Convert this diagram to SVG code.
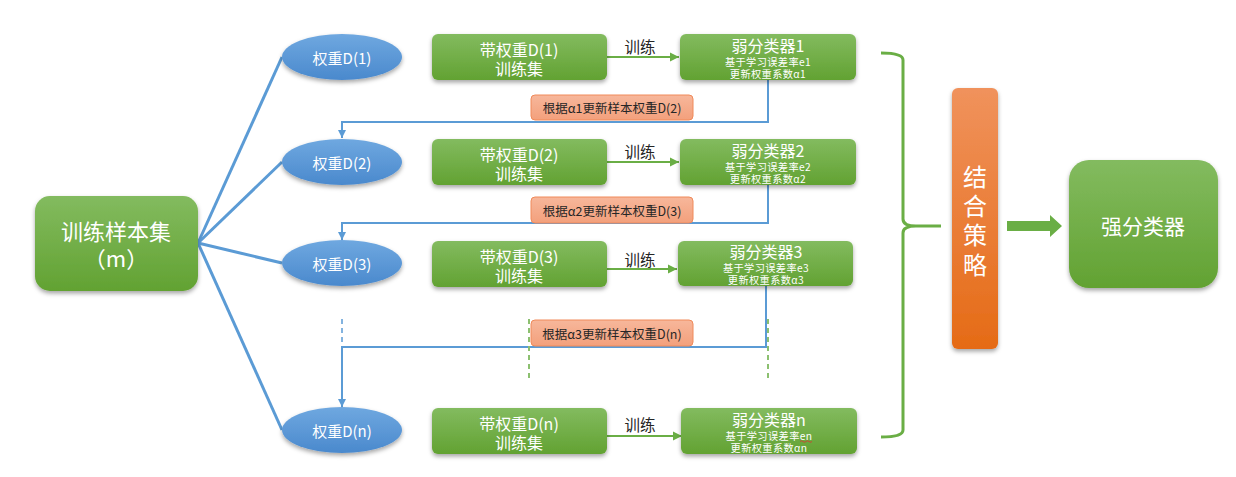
<svg xmlns="http://www.w3.org/2000/svg" width="1236" height="477" viewBox="0 0 1236 477">
<defs>
  <linearGradient id="gGreen" x1="0" y1="0" x2="0" y2="1">
    <stop offset="0" stop-color="#83BB5F"/>
    <stop offset="1" stop-color="#62A232"/>
  </linearGradient>
  <linearGradient id="gBlue" x1="0" y1="0" x2="0" y2="1">
    <stop offset="0" stop-color="#6FA8E0"/>
    <stop offset="1" stop-color="#4A89CD"/>
  </linearGradient>
  <linearGradient id="gOrange" x1="0" y1="0" x2="0" y2="1">
    <stop offset="0" stop-color="#F0925C"/>
    <stop offset="1" stop-color="#E56B16"/>
  </linearGradient>
  <linearGradient id="gSalmon" x1="0" y1="0" x2="0" y2="1">
    <stop offset="0" stop-color="#F7B79B"/>
    <stop offset="1" stop-color="#F3A07C"/>
  </linearGradient>
  <filter id="sh" x="-20%" y="-20%" width="140%" height="150%">
    <feDropShadow dx="0" dy="2.5" stdDeviation="2" flood-color="#000" flood-opacity="0.35"/>
  </filter>
  <marker id="arrB" markerWidth="10" markerHeight="10" refX="8" refY="5" orient="auto" markerUnits="userSpaceOnUse">
    <path d="M0,1 L8,5 L0,9 Z" fill="#5B9BD5"/>
  </marker>
  <marker id="arrG" markerWidth="12" markerHeight="12" refX="9" refY="6" orient="auto" markerUnits="userSpaceOnUse">
    <path d="M0,1.5 L9,6 L0,10.5 Z" fill="#6AAE45"/>
  </marker>
</defs>
<style>
  text, tspan { font-family: "Noto Sans CJK SC", "Noto Sans", sans-serif; text-anchor: middle; dominant-baseline: central; }
  .w { fill: #FFFFFF; }
  .box { fill: url(#gGreen); filter: url(#sh); }
  .ell { fill: url(#gBlue); filter: url(#sh); }
  .lbl { fill: url(#gSalmon); stroke: #F08A5A; stroke-width: 1; }
  .blue { fill: none; stroke: #5B9BD5; stroke-width: 2; }
  .fan { fill: none; stroke: #5B9BD5; stroke-width: 3; }
  .gdash { fill: none; stroke: #8CC070; stroke-width: 2; stroke-dasharray: 5 4; }
  .bdash { fill: none; stroke: #5B9BD5; stroke-width: 1.5; stroke-dasharray: 5 4; }
  .garr { fill: none; stroke: #6AAE45; stroke-width: 2; }
  .t16 { font-size: 16px; }
  .t15 { font-size: 15px; }
  .t10 { font-size: 10.2px; letter-spacing: 0.4px; }
  .t12 { font-size: 12.5px; fill: #262626; }
  .tk { font-size: 15.5px; fill: #262626; }
</style>

<g id="connectors">
  <line class="fan" x1="198" y1="243" x2="282" y2="57"/>
  <line class="fan" x1="198" y1="243" x2="282" y2="162"/>
  <line class="fan" x1="198" y1="243" x2="282" y2="263"/>
  <line class="fan" x1="198" y1="243" x2="282" y2="430"/>
  <line class="garr" x1="607" y1="57" x2="679" y2="57" marker-end="url(#arrG)"/>
  <line class="garr" x1="607" y1="162" x2="679" y2="162" marker-end="url(#arrG)"/>
  <line class="garr" x1="607" y1="269" x2="677" y2="269" marker-end="url(#arrG)"/>
  <line class="garr" x1="607" y1="436" x2="682" y2="436" marker-end="url(#arrG)"/>
  <polyline class="blue" points="768,80 768,122 342,122 342,138" marker-end="url(#arrB)"/>
  <polyline class="blue" points="768,185 768,223 342,223 342,240" marker-end="url(#arrB)"/>
  <polyline class="blue" points="766,286 766,347 342,347 342,407" marker-end="url(#arrB)"/>
  <line class="bdash" x1="342" y1="319" x2="342" y2="344"/>
  <line class="gdash" x1="529" y1="319" x2="529" y2="381"/>
  <line class="gdash" x1="768" y1="319" x2="768" y2="381"/>
  <path d="M881,53 Q903,53 903,60 L903,219 Q903,226 916,226 L941,226 M916,226 Q903,226 903,233 L903,430 Q903,437 881,437" fill="none" stroke="#6AAE45" stroke-width="3"/>
  <path d="M1007,221 L1050,221 L1050,215 L1062,226 L1050,237 L1050,231 L1007,231 Z" fill="#6AAE45"/>
</g>

<g id="sample-set">
  <rect class="box" x="35" y="196" width="163" height="95" rx="15"/>
  <text class="w" font-size="22"><tspan x="116" y="230">训练样本集</tspan><tspan x="116" y="257">（m）</tspan></text>
</g>

<g id="weight-1">
  <ellipse class="ell" cx="342" cy="57" rx="60" ry="23"/>
  <text class="w t15" x="342" y="57">权重D(1)</text>
</g>
<g id="weight-2">
  <ellipse class="ell" cx="342" cy="162" rx="60" ry="23"/>
  <text class="w t15" x="342" y="162">权重D(2)</text>
</g>
<g id="weight-3">
  <ellipse class="ell" cx="342" cy="263" rx="60" ry="23"/>
  <text class="w t15" x="342" y="263">权重D(3)</text>
</g>
<g id="weight-n">
  <ellipse class="ell" cx="342" cy="430" rx="60" ry="23"/>
  <text class="w t15" x="342" y="430">权重D(n)</text>
</g>

<g id="trainset-1">
  <rect class="box" x="432" y="34" width="175" height="46" rx="6"/>
  <text class="w t16"><tspan x="519" y="49">带权重D(1)</tspan><tspan x="519" y="68">训练集</tspan></text>
</g>
<g id="trainset-2">
  <rect class="box" x="432" y="139" width="175" height="46" rx="6"/>
  <text class="w t16"><tspan x="519" y="154">带权重D(2)</tspan><tspan x="519" y="173">训练集</tspan></text>
</g>
<g id="trainset-3">
  <rect class="box" x="432" y="241" width="175" height="46" rx="6"/>
  <text class="w t16"><tspan x="519" y="256">带权重D(3)</tspan><tspan x="519" y="275">训练集</tspan></text>
</g>
<g id="trainset-n">
  <rect class="box" x="432" y="408" width="175" height="46" rx="6"/>
  <text class="w t16"><tspan x="519" y="423">带权重D(n)</tspan><tspan x="519" y="442">训练集</tspan></text>
</g>

<g id="train-labels">
  <text class="tk" x="640" y="46">训练</text>
  <text class="tk" x="640" y="151">训练</text>
  <text class="tk" x="640" y="259">训练</text>
  <text class="tk" x="640" y="424">训练</text>
</g>

<g id="weak-1">
  <rect class="box" x="680" y="34" width="176" height="46" rx="6"/>
  <text class="w"><tspan class="t16" x="768" y="44.5">弱分类器1</tspan><tspan class="t10" x="768" y="60.5">基于学习误差率e1</tspan><tspan class="t10" x="768" y="72.5">更新权重系数α1</tspan></text>
</g>
<g id="weak-2">
  <rect class="box" x="680" y="139" width="176" height="46" rx="6"/>
  <text class="w"><tspan class="t16" x="768" y="149.5">弱分类器2</tspan><tspan class="t10" x="768" y="165.5">基于学习误差率e2</tspan><tspan class="t10" x="768" y="177.5">更新权重系数α2</tspan></text>
</g>
<g id="weak-3">
  <rect class="box" x="678" y="241" width="175" height="45" rx="6"/>
  <text class="w"><tspan class="t16" x="766" y="251">弱分类器3</tspan><tspan class="t10" x="766" y="267">基于学习误差率e3</tspan><tspan class="t10" x="766" y="279">更新权重系数α3</tspan></text>
</g>
<g id="weak-n">
  <rect class="box" x="681" y="408" width="176" height="46" rx="6"/>
  <text class="w"><tspan class="t16" x="769" y="418.5">弱分类器n</tspan><tspan class="t10" x="769" y="434.5">基于学习误差率en</tspan><tspan class="t10" x="769" y="446.5">更新权重系数αn</tspan></text>
  <path d="M800,441.5 q1.5,-1.5 3,0 t3,0 t3,0 t3,0" fill="none" stroke="#E03030" stroke-width="0.8"/>
</g>

<g id="update-1">
  <rect class="lbl" x="531" y="95" width="162" height="25" rx="4"/>
  <text class="t12" x="612" y="107.5">根据α1更新样本权重D(2)</text>
</g>
<g id="update-2">
  <rect class="lbl" x="531" y="197" width="162" height="26" rx="4"/>
  <text class="t12" x="612" y="210">根据α2更新样本权重D(3)</text>
</g>
<g id="update-3">
  <rect class="lbl" x="531" y="320" width="162" height="26" rx="4"/>
  <text class="t12" x="612" y="333">根据α3更新样本权重D(n)</text>
</g>

<g id="strategy">
  <rect x="952" y="88" width="46" height="261" rx="6" fill="url(#gOrange)" filter="url(#sh)"/>
  <text class="w" font-size="24"><tspan x="975" y="175">结</tspan><tspan x="975" y="204">合</tspan><tspan x="975" y="233">策</tspan><tspan x="975" y="263">略</tspan></text>
</g>

<g id="strong">
  <rect class="box" x="1069" y="160" width="149" height="128" rx="20"/>
  <text class="w" x="1143" y="225" font-size="21">强分类器</text>
</g>
</svg>
